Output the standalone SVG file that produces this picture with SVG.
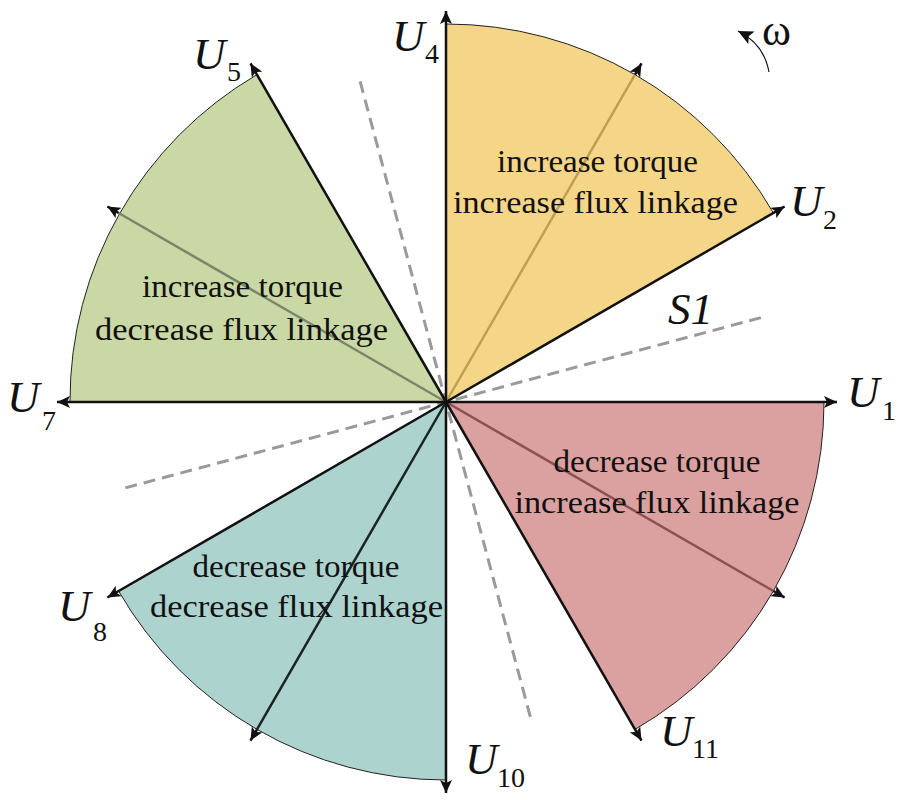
<svg xmlns="http://www.w3.org/2000/svg" width="900" height="800" viewBox="0 0 900 800">
<defs>
<marker id="ah" markerUnits="userSpaceOnUse" markerWidth="14" markerHeight="12" refX="13" refY="6" orient="auto">
<path d="M0,0 L13,6 L0,12 L3,6 z" fill="#111"/>
</marker>
<marker id="ahw" markerUnits="userSpaceOnUse" markerWidth="16" markerHeight="14" refX="15" refY="7" orient="auto">
<path d="M0,0 L15,7 L0,14 L3,7 z" fill="#111"/>
</marker>
<style>
.arc{stroke:#222;stroke-width:1}
.vec{stroke:#111;stroke-width:2.5;fill:none}
.dash{stroke:#9a9a9a;stroke-width:3;stroke-dasharray:12 7;fill:none}
.lbl{font-size:32px;fill:#111}
.u{font-style:italic;font-size:45px;fill:#111}
.sub{font-size:28px;fill:#111}
</style>
</defs>
<rect width="900" height="800" fill="#fff"/>
<g font-family="Liberation Serif, Times New Roman, Tinos, serif">
<g id="sector-yellow">
<path class="arc" d="M446,402 L773.4,213 A378,378 0 0 0 446,24 Z" fill="#F5D689"/>
<line x1="446" y1="402" x2="635" y2="74.6" stroke="#C0A050" stroke-width="2.5"/>
<text class="lbl" x="497" y="172" textLength="201" lengthAdjust="spacingAndGlyphs">increase torque</text>
<text class="lbl" x="453" y="213" textLength="285" lengthAdjust="spacingAndGlyphs">increase flux linkage</text>
</g>
<g id="sector-green">
<path class="arc" d="M446,402 L257,74.6 A378,378 0 0 0 70,402 Z" fill="#C9D8A5"/>
<line x1="446" y1="402" x2="118.6" y2="213" stroke="#7A866A" stroke-width="2.5"/>
<text class="lbl" x="142" y="297" textLength="201" lengthAdjust="spacingAndGlyphs">increase torque</text>
<text class="lbl" x="95" y="340" textLength="293" lengthAdjust="spacingAndGlyphs">decrease flux linkage</text>
</g>
<g id="sector-red">
<path class="arc" d="M446,402 L824,402 A378,378 0 0 1 635,729.4 Z" fill="#DBA0A0"/>
<line x1="446" y1="402" x2="773.4" y2="591" stroke="#8C5252" stroke-width="2.5"/>
<text class="lbl" x="553.5" y="472" textLength="207" lengthAdjust="spacingAndGlyphs">decrease torque</text>
<text class="lbl" x="514.5" y="513" textLength="285" lengthAdjust="spacingAndGlyphs">increase flux linkage</text>
</g>
<g id="sector-teal">
<path class="arc" d="M446,402 L446,780 A378,378 0 0 1 118.6,591 Z" fill="#ADD3CF"/>
<line x1="446" y1="402" x2="257" y2="729.4" stroke="#1a2424" stroke-width="2.5"/>
<text class="lbl" x="192.5" y="577" textLength="207" lengthAdjust="spacingAndGlyphs">decrease torque</text>
<text class="lbl" x="150" y="617" textLength="293" lengthAdjust="spacingAndGlyphs">decrease flux linkage</text>
</g>

<g id="connectors">
<line class="dash" x1="125.3" y1="487.9" x2="766.7" y2="316.1"/>
<line class="dash" x1="360.1" y1="81.3" x2="531.9" y2="722.7"/>
<line class="vec" x1="446" y1="402" x2="837" y2="402" marker-end="url(#ah)"/>
<line class="vec" x1="446" y1="402" x2="784.6" y2="206.5" marker-end="url(#ah)"/>
<line class="vec" x1="635" y1="74.6" x2="641.5" y2="63.4" marker-end="url(#ah)"/>
<line class="vec" x1="446" y1="402" x2="446" y2="11" marker-end="url(#ah)"/>
<line class="vec" x1="446" y1="402" x2="250.5" y2="63.4" marker-end="url(#ah)"/>
<line class="vec" x1="118.6" y1="213" x2="107.4" y2="206.5" marker-end="url(#ah)"/>
<line class="vec" x1="446" y1="402" x2="57" y2="402" marker-end="url(#ah)"/>
<line class="vec" x1="446" y1="402" x2="107.4" y2="597.5" marker-end="url(#ah)"/>
<line class="vec" x1="257" y1="729.4" x2="250.5" y2="740.6" marker-end="url(#ah)"/>
<line class="vec" x1="446" y1="402" x2="446" y2="793" marker-end="url(#ah)"/>
<line class="vec" x1="446" y1="402" x2="641.5" y2="740.6" marker-end="url(#ah)"/>
<line class="vec" x1="773.4" y1="591" x2="784.6" y2="597.5" marker-end="url(#ah)"/>
<path d="M769,72 Q764,44 738,31" fill="none" stroke="#111" stroke-width="1.2" marker-end="url(#ahw)"/>
</g>

<g id="labels">
<text class="u" x="392" y="51">U</text><text class="sub" x="425" y="63">4</text>
<text class="u" x="790" y="216">U</text><text class="sub" x="823" y="229">2</text>
<text class="u" x="193" y="69">U</text><text class="sub" x="227" y="81">5</text>
<text class="u" x="7" y="412">U</text><text class="sub" x="42" y="430">7</text>
<text class="u" x="847" y="407">U</text><text class="sub" x="882" y="420">1</text>
<text class="u" x="58" y="621">U</text><text class="sub" x="93" y="641">8</text>
<text class="u" x="660" y="746">U</text><text class="sub" x="692" y="758">11</text>
<text class="u" x="465" y="774">U</text><text class="sub" x="497" y="787">10</text>
<text class="u" x="668" y="324">S1</text>
<text x="762" y="45" font-size="44" fill="#111">ω</text>
</g>
</g>
</svg>
